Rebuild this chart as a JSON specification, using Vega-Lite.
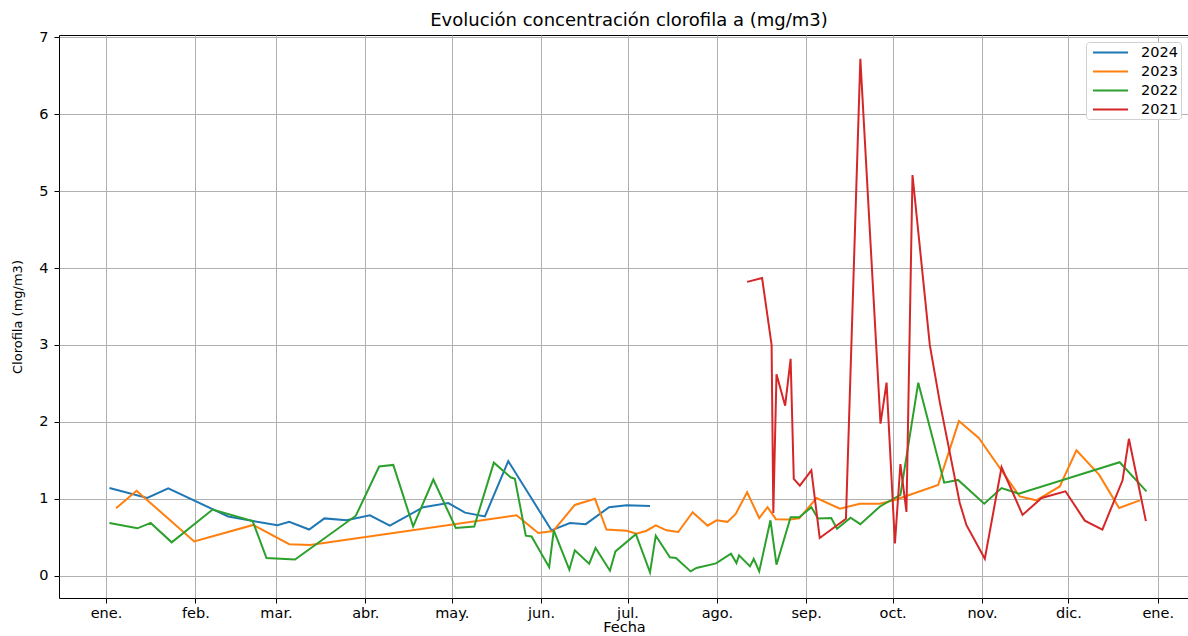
{
  "$schema": "https://vega.github.io/schema/vega-lite/v6.json",
  "autosize": {"type": "none"},
  "width": 1130,
  "height": 563,
  "padding": {"left": 59, "top": 35, "right": 0, "bottom": 38},
  "background": "#ffffff",
  "title": {"text": "Evolución concentración clorofila a (mg/m3)", "font": "DejaVu Sans", "fontSize": 18, "fontWeight": "normal", "color": "#000000", "offset": -1, "dx": 5},
  "config": {
    "view": {"stroke": "#000000", "strokeWidth": 1},
    "axis": {"labelFont": "DejaVu Sans", "labelFontSize": 14.5, "labelColor": "#000000", "titleFont": "DejaVu Sans", "titleFontSize": 14.5, "titleFontWeight": "normal", "titleColor": "#000000", "tickColor": "#000000", "tickSize": 5, "domain": false, "gridColor": "#b0b0b0", "gridWidth": 1, "gridOpacity": 1}
  },
  "data": {"values": [
    {"anio": "2024", "dia": 1.2, "clorofila": 1.14},
    {"anio": "2024", "dia": 14.3, "clorofila": 1.01},
    {"anio": "2024", "dia": 21.6, "clorofila": 1.135},
    {"anio": "2024", "dia": 42.4, "clorofila": 0.77},
    {"anio": "2024", "dia": 51.1, "clorofila": 0.71},
    {"anio": "2024", "dia": 59.5, "clorofila": 0.655},
    {"anio": "2024", "dia": 63.6, "clorofila": 0.7},
    {"anio": "2024", "dia": 70.5, "clorofila": 0.6},
    {"anio": "2024", "dia": 75.8, "clorofila": 0.745},
    {"anio": "2024", "dia": 83.5, "clorofila": 0.72},
    {"anio": "2024", "dia": 91.6, "clorofila": 0.785},
    {"anio": "2024", "dia": 98.5, "clorofila": 0.65},
    {"anio": "2024", "dia": 110.1, "clorofila": 0.89},
    {"anio": "2024", "dia": 118.8, "clorofila": 0.945},
    {"anio": "2024", "dia": 124.6, "clorofila": 0.82},
    {"anio": "2024", "dia": 131.5, "clorofila": 0.77},
    {"anio": "2024", "dia": 139.6, "clorofila": 1.49},
    {"anio": "2024", "dia": 154.6, "clorofila": 0.59},
    {"anio": "2024", "dia": 161.0, "clorofila": 0.685},
    {"anio": "2024", "dia": 166.5, "clorofila": 0.67},
    {"anio": "2024", "dia": 174.6, "clorofila": 0.89},
    {"anio": "2024", "dia": 180.7, "clorofila": 0.915},
    {"anio": "2024", "dia": 188.8, "clorofila": 0.905},

    {"anio": "2023", "dia": 3.5, "clorofila": 0.876},
    {"anio": "2023", "dia": 10.6, "clorofila": 1.105},
    {"anio": "2023", "dia": 30.6, "clorofila": 0.446},
    {"anio": "2023", "dia": 51.1, "clorofila": 0.66},
    {"anio": "2023", "dia": 63.6, "clorofila": 0.41},
    {"anio": "2023", "dia": 70.8, "clorofila": 0.4},
    {"anio": "2023", "dia": 142.5, "clorofila": 0.785},
    {"anio": "2023", "dia": 150.0, "clorofila": 0.555},
    {"anio": "2023", "dia": 155.2, "clorofila": 0.58},
    {"anio": "2023", "dia": 162.7, "clorofila": 0.92},
    {"anio": "2023", "dia": 169.7, "clorofila": 1.0},
    {"anio": "2023", "dia": 173.7, "clorofila": 0.6},
    {"anio": "2023", "dia": 180.7, "clorofila": 0.585},
    {"anio": "2023", "dia": 184.1, "clorofila": 0.546},
    {"anio": "2023", "dia": 187.6, "clorofila": 0.585},
    {"anio": "2023", "dia": 190.8, "clorofila": 0.655},
    {"anio": "2023", "dia": 194.5, "clorofila": 0.59},
    {"anio": "2023", "dia": 198.6, "clorofila": 0.568},
    {"anio": "2023", "dia": 203.6, "clorofila": 0.825},
    {"anio": "2023", "dia": 208.8, "clorofila": 0.65},
    {"anio": "2023", "dia": 211.9, "clorofila": 0.72},
    {"anio": "2023", "dia": 215.7, "clorofila": 0.7},
    {"anio": "2023", "dia": 218.6, "clorofila": 0.807},
    {"anio": "2023", "dia": 222.5, "clorofila": 1.084},
    {"anio": "2023", "dia": 226.7, "clorofila": 0.75},
    {"anio": "2023", "dia": 229.6, "clorofila": 0.89},
    {"anio": "2023", "dia": 232.5, "clorofila": 0.735},
    {"anio": "2023", "dia": 237.3, "clorofila": 0.73},
    {"anio": "2023", "dia": 240.6, "clorofila": 0.745},
    {"anio": "2023", "dia": 246.6, "clorofila": 1.01},
    {"anio": "2023", "dia": 254.7, "clorofila": 0.87},
    {"anio": "2023", "dia": 261.6, "clorofila": 0.935},
    {"anio": "2023", "dia": 268.6, "clorofila": 0.935},
    {"anio": "2023", "dia": 274.3, "clorofila": 0.99},
    {"anio": "2023", "dia": 288.8, "clorofila": 1.18},
    {"anio": "2023", "dia": 296.0, "clorofila": 2.01},
    {"anio": "2023", "dia": 302.9, "clorofila": 1.79},
    {"anio": "2023", "dia": 310.2, "clorofila": 1.4},
    {"anio": "2023", "dia": 317.1, "clorofila": 1.03},
    {"anio": "2023", "dia": 322.9, "clorofila": 0.98},
    {"anio": "2023", "dia": 331.0, "clorofila": 1.16},
    {"anio": "2023", "dia": 336.8, "clorofila": 1.63},
    {"anio": "2023", "dia": 344.7, "clorofila": 1.31},
    {"anio": "2023", "dia": 351.6, "clorofila": 0.88},
    {"anio": "2023", "dia": 358.8, "clorofila": 0.98},

    {"anio": "2022", "dia": 1.2, "clorofila": 0.686},
    {"anio": "2022", "dia": 10.9, "clorofila": 0.616},
    {"anio": "2022", "dia": 15.5, "clorofila": 0.686},
    {"anio": "2022", "dia": 22.8, "clorofila": 0.434},
    {"anio": "2022", "dia": 37.0, "clorofila": 0.86},
    {"anio": "2022", "dia": 50.9, "clorofila": 0.71},
    {"anio": "2022", "dia": 55.7, "clorofila": 0.23},
    {"anio": "2022", "dia": 65.6, "clorofila": 0.21},
    {"anio": "2022", "dia": 86.7, "clorofila": 0.78},
    {"anio": "2022", "dia": 94.8, "clorofila": 1.42},
    {"anio": "2022", "dia": 99.7, "clorofila": 1.44},
    {"anio": "2022", "dia": 106.6, "clorofila": 0.64},
    {"anio": "2022", "dia": 113.6, "clorofila": 1.25},
    {"anio": "2022", "dia": 121.4, "clorofila": 0.62},
    {"anio": "2022", "dia": 127.8, "clorofila": 0.64},
    {"anio": "2022", "dia": 134.6, "clorofila": 1.47},
    {"anio": "2022", "dia": 140.4, "clorofila": 1.28},
    {"anio": "2022", "dia": 141.9, "clorofila": 1.26},
    {"anio": "2022", "dia": 145.7, "clorofila": 0.52},
    {"anio": "2022", "dia": 147.7, "clorofila": 0.51},
    {"anio": "2022", "dia": 153.8, "clorofila": 0.11},
    {"anio": "2022", "dia": 155.4, "clorofila": 0.59},
    {"anio": "2022", "dia": 160.8, "clorofila": 0.078},
    {"anio": "2022", "dia": 162.7, "clorofila": 0.33},
    {"anio": "2022", "dia": 167.7, "clorofila": 0.156},
    {"anio": "2022", "dia": 169.9, "clorofila": 0.36},
    {"anio": "2022", "dia": 174.9, "clorofila": 0.065},
    {"anio": "2022", "dia": 176.8, "clorofila": 0.316},
    {"anio": "2022", "dia": 183.9, "clorofila": 0.54},
    {"anio": "2022", "dia": 188.8, "clorofila": 0.043},
    {"anio": "2022", "dia": 190.8, "clorofila": 0.52},
    {"anio": "2022", "dia": 195.7, "clorofila": 0.24},
    {"anio": "2022", "dia": 197.8, "clorofila": 0.23},
    {"anio": "2022", "dia": 202.9, "clorofila": 0.056},
    {"anio": "2022", "dia": 204.9, "clorofila": 0.1},
    {"anio": "2022", "dia": 211.7, "clorofila": 0.16},
    {"anio": "2022", "dia": 216.9, "clorofila": 0.286},
    {"anio": "2022", "dia": 218.8, "clorofila": 0.165},
    {"anio": "2022", "dia": 219.7, "clorofila": 0.264},
    {"anio": "2022", "dia": 223.5, "clorofila": 0.121},
    {"anio": "2022", "dia": 224.8, "clorofila": 0.22},
    {"anio": "2022", "dia": 226.7, "clorofila": 0.056},
    {"anio": "2022", "dia": 230.6, "clorofila": 0.72},
    {"anio": "2022", "dia": 232.7, "clorofila": 0.143},
    {"anio": "2022", "dia": 237.6, "clorofila": 0.76},
    {"anio": "2022", "dia": 240.6, "clorofila": 0.76},
    {"anio": "2022", "dia": 244.8, "clorofila": 0.89},
    {"anio": "2022", "dia": 247.1, "clorofila": 0.745},
    {"anio": "2022", "dia": 251.7, "clorofila": 0.75},
    {"anio": "2022", "dia": 253.7, "clorofila": 0.61},
    {"anio": "2022", "dia": 258.4, "clorofila": 0.755},
    {"anio": "2022", "dia": 261.8, "clorofila": 0.67},
    {"anio": "2022", "dia": 268.6, "clorofila": 0.9},
    {"anio": "2022", "dia": 275.7, "clorofila": 1.05},
    {"anio": "2022", "dia": 281.9, "clorofila": 2.51},
    {"anio": "2022", "dia": 290.9, "clorofila": 1.21},
    {"anio": "2022", "dia": 295.7, "clorofila": 1.245},
    {"anio": "2022", "dia": 304.8, "clorofila": 0.937},
    {"anio": "2022", "dia": 310.8, "clorofila": 1.14},
    {"anio": "2022", "dia": 316.8, "clorofila": 1.067},
    {"anio": "2022", "dia": 351.8, "clorofila": 1.475},
    {"anio": "2022", "dia": 361.1, "clorofila": 1.097},

    {"anio": "2021", "dia": 222.5, "clorofila": 3.82},
    {"anio": "2021", "dia": 227.7, "clorofila": 3.87},
    {"anio": "2021", "dia": 231.0, "clorofila": 3.0},
    {"anio": "2021", "dia": 231.6, "clorofila": 0.815},
    {"anio": "2021", "dia": 232.7, "clorofila": 2.62},
    {"anio": "2021", "dia": 235.7, "clorofila": 2.21},
    {"anio": "2021", "dia": 237.6, "clorofila": 2.82},
    {"anio": "2021", "dia": 238.7, "clorofila": 1.26},
    {"anio": "2021", "dia": 240.8, "clorofila": 1.17},
    {"anio": "2021", "dia": 244.8, "clorofila": 1.37},
    {"anio": "2021", "dia": 247.7, "clorofila": 0.49},
    {"anio": "2021", "dia": 256.8, "clorofila": 0.74},
    {"anio": "2021", "dia": 261.8, "clorofila": 6.72},
    {"anio": "2021", "dia": 268.8, "clorofila": 1.977},
    {"anio": "2021", "dia": 270.9, "clorofila": 2.51},
    {"anio": "2021", "dia": 273.8, "clorofila": 0.42},
    {"anio": "2021", "dia": 275.7, "clorofila": 1.45},
    {"anio": "2021", "dia": 277.8, "clorofila": 0.83},
    {"anio": "2021", "dia": 279.9, "clorofila": 5.21},
    {"anio": "2021", "dia": 285.9, "clorofila": 3.0},
    {"anio": "2021", "dia": 289.4, "clorofila": 2.25},
    {"anio": "2021", "dia": 296.3, "clorofila": 0.945},
    {"anio": "2021", "dia": 298.6, "clorofila": 0.66},
    {"anio": "2021", "dia": 305.0, "clorofila": 0.22},
    {"anio": "2021", "dia": 310.8, "clorofila": 1.41},
    {"anio": "2021", "dia": 318.1, "clorofila": 0.79},
    {"anio": "2021", "dia": 324.7, "clorofila": 1.01},
    {"anio": "2021", "dia": 333.0, "clorofila": 1.097},
    {"anio": "2021", "dia": 339.7, "clorofila": 0.716},
    {"anio": "2021", "dia": 345.8, "clorofila": 0.6},
    {"anio": "2021", "dia": 352.8, "clorofila": 1.24},
    {"anio": "2021", "dia": 355.0, "clorofila": 1.78},
    {"anio": "2021", "dia": 360.9, "clorofila": 0.71}
  ]},
  "mark": {"type": "line", "strokeWidth": 2, "clip": true},
  "encoding": {
    "x": {
      "field": "dia", "type": "quantitative",
      "scale": {"domain": [-16.31, 375.86], "nice": false, "zero": false},
      "axis": {
        "title": "Fecha",
        "values": [0, 31, 59, 90, 120, 151, 181, 212, 243, 273, 304, 334, 365],
        "labelExpr": "['ene.','feb.','mar.','abr.','may.','jun.','jul.','ago.','sep.','oct.','nov.','dic.','ene.'][indexof([0,31,59,90,120,151,181,212,243,273,304,334,365], datum.value)]",
        "labelPadding": 3,
        "titlePadding": 1,
        "labelFlush": false,
        "labelOverlap": false
      }
    },
    "y": {
      "field": "clorofila", "type": "quantitative",
      "scale": {"domain": [-0.29, 7.03], "nice": false, "zero": false},
      "axis": {"title": "Clorofila (mg/m3)", "titleFontSize": 13, "values": [0, 1, 2, 3, 4, 5, 6, 7], "labelPadding": 6, "titlePadding": 14}
    },
    "color": {
      "field": "anio", "type": "nominal",
      "scale": {"domain": ["2024", "2023", "2022", "2021"], "range": ["#1f77b4", "#ff7f0e", "#2ca02c", "#d62728"]},
      "sort": ["2024", "2023", "2022", "2021"],
      "legend": {
        "title": null, "orient": "none", "legendX": 1027, "legendY": 7,
        "padding": 3, "strokeColor": "#d0d0d0", "fillColor": "#ffffff", "cornerRadius": 3,
        "labelFont": "DejaVu Sans", "labelFontSize": 14.5, "labelColor": "#000000", "labelOffset": 23,
        "symbolType": "M-2.7,0H2.7", "symbolSize": 169, "symbolStrokeWidth": 2, "symbolOffset": 14, "rowPadding": 4
      }
    }
  }
}
